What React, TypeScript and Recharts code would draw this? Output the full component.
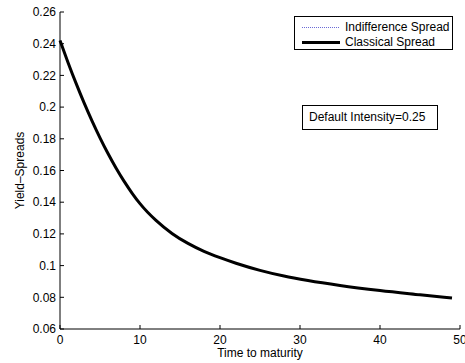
import React from 'react'
import { LineChart, Line, XAxis, YAxis, Legend } from 'recharts'

// time to maturity (years) and spread values
const maturity = [0, 1, 2, 3, 4, 5, 6, 7, 8, 9, 10, 12, 14, 16, 18, 20, 22, 25, 28, 31, 35, 40, 45, 49]
const classicalSpread = [
  0.242, 0.2282, 0.2151, 0.2028, 0.1913, 0.1806, 0.1707, 0.1616, 0.1533, 0.1458, 0.1391, 0.1285,
  0.1203, 0.114, 0.109, 0.105, 0.1015, 0.097, 0.0934, 0.0906, 0.0875, 0.0843, 0.0816, 0.0795,
]
// indifference spread coincides with the classical one (hidden under it)
const indifferenceSpread = [...classicalSpread]

const xTicks = [0, 10, 20, 30, 40, 50]
const yTicks = [0.06, 0.08, 0.1, 0.12, 0.14, 0.16, 0.18, 0.2, 0.22, 0.24, 0.26]

const FONT = '"Liberation Sans", Arial, sans-serif'

const data = maturity.map((t, i) => ({
  t,
  indifference: indifferenceSpread[i],
  classical: classicalSpread[i],
}))

const fmt = (v: number) => String(+v.toFixed(2))

const LegendBox = () => (
  <div
    style={{
      position: 'absolute',
      left: 294,
      top: 16,
      width: 159,
      height: 34,
      border: '1px solid #000',
      background: '#fff',
      fontFamily: FONT,
      fontSize: 12,
      color: '#000',
      boxSizing: 'border-box',
    }}
  >
    <div style={{ position: 'absolute', left: 7, top: 10, width: 37, borderTop: '1px dotted #6b6bd6' }} />
    <div style={{ position: 'absolute', left: 50, top: 3, lineHeight: '14px' }}>Indifference Spread</div>
    <div style={{ position: 'absolute', left: 7, top: 24, width: 38, borderTop: '3px solid #000' }} />
    <div style={{ position: 'absolute', left: 50, top: 18, lineHeight: '14px' }}>Classical Spread</div>
  </div>
)

export default function App() {
  return (
    <div style={{ position: 'absolute', left: 0, top: 0, width: 465, height: 363, background: '#fff' }}>
      <LineChart width={465} height={363} data={data} margin={{ top: 12, right: 5, bottom: 0, left: 0 }}>
        <XAxis
          xAxisId="b"
          dataKey="t"
          type="number"
          domain={[0, 50]}
          ticks={xTicks}
          interval={0}
          height={34}
          stroke="#000"
          tickSize={-4}
          tickMargin={10}
          tick={{ fill: '#000', fontSize: 12, fontFamily: FONT }}
          label={{ value: 'Time to maturity', position: 'insideBottom', offset: 6, fill: '#000', fontSize: 12, fontFamily: FONT }}
        />
        <XAxis
          xAxisId="t"
          orientation="top"
          dataKey="t"
          type="number"
          domain={[0, 50]}
          ticks={xTicks}
          height={0}
          stroke="#000"
          tickSize={-4}
          tick={false}
        />
        <YAxis
          yAxisId="l"
          type="number"
          domain={[0.06, 0.26]}
          ticks={yTicks}
          interval={0}
          width={60}
          stroke="#000"
          tickSize={-4}
          tickMargin={8}
          tickFormatter={fmt}
          tick={{ fill: '#000', fontSize: 12, fontFamily: FONT }}
          label={{
            value: 'Yield\u2013Spreads',
            angle: -90,
            position: 'insideLeft',
            offset: 20,
            fill: '#000',
            fontSize: 12,
            fontFamily: FONT,
            style: { textAnchor: 'middle' },
          }}
        />
        <YAxis
          yAxisId="r"
          orientation="right"
          type="number"
          domain={[0.06, 0.26]}
          ticks={yTicks}
          width={0}
          stroke="#000"
          tickSize={-4}
          tick={false}
        />
        <Legend content={() => null} />
        <Line
          xAxisId="b"
          yAxisId="l"
          type="monotone"
          dataKey="indifference"
          stroke="#6b6bd6"
          strokeWidth={1}
          strokeDasharray="1 3"
          dot={false}
          isAnimationActive={false}
        />
        <Line
          xAxisId="b"
          yAxisId="l"
          type="monotone"
          dataKey="classical"
          stroke="#000"
          strokeWidth={3}
          dot={false}
          isAnimationActive={false}
        />
      </LineChart>
      <LegendBox />
      <div
        style={{
          position: 'absolute',
          left: 302,
          top: 105,
          width: 136,
          height: 25,
          border: '1px solid #000',
          background: '#fff',
          boxSizing: 'border-box',
          fontFamily: FONT,
          fontSize: 12,
          color: '#000',
          paddingLeft: 6,
          lineHeight: '22px',
        }}
      >
        Default Intensity=0.25
      </div>
    </div>
  )
}
